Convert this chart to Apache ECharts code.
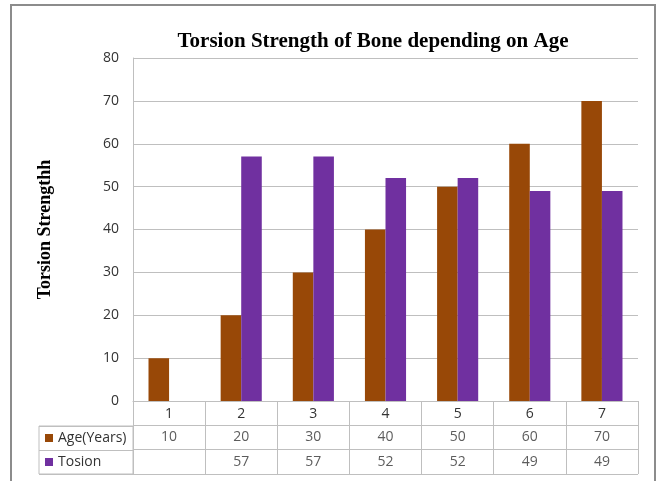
<!DOCTYPE html>
<html>
<head>
<meta charset="utf-8">
<script src="https://cdn.jsdelivr.net/npm/echarts@6/dist/echarts.min.js"></script>
<style>
  html, body { margin: 0; padding: 0; background: #fff; }
  #wrap { position: relative; width: 661px; height: 481px; overflow: hidden; }
  #frame { position: absolute; left: 10px; top: 4px; width: 646px; height: 520px;
           border: 2px solid #8c8c8c; box-sizing: border-box; }
  #chart { position: absolute; left: 0; top: 0; width: 661px; height: 481px; }
</style>
</head>
<body>
<div id="wrap"><div id="frame"></div><div id="chart"></div></div>
<script>
// Bone torsion strength by age group
const categories = ['1', '2', '3', '4', '5', '6', '7'];
const seriesNames = ['Age(Years)', 'Tosion'];
const ageYears = [10, 20, 30, 40, 50, 60, 70];
const tosion = [null, 57, 57, 52, 52, 49, 49];

const SANS = 'Open Sans';
const SERIF = 'Liberation Serif';
const TEXT = '#333';
const LINE = '#bfbfbf';

// Data table cells under the plot: row 2 (Age) and row 3 (Tosion)
const tableCells = [];
ageYears.forEach((v, i) => { if (v != null) tableCells.push([i, 1.5, v]); });
tosion.forEach((v, i) => { if (v != null) tableCells.push([i, 0.5, v]); });

const chart = echarts.init(document.getElementById('chart'), null, { renderer: 'canvas' });

chart.setOption({
  animation: false,
  backgroundColor: 'transparent',
  title: {
    text: 'Torsion Strength of Bone depending on Age',
    left: 368, top: 26, textAlign: 'center',
    textStyle: { fontFamily: SERIF, fontWeight: 'bold', fontSize: 21, color: '#000' }
  },
  legend: {
    data: seriesNames,
    orient: 'vertical',
    left: 45, top: 430,
    padding: 0,
    itemGap: 8,
    itemWidth: 8, itemHeight: 8,
    icon: 'rect',
    textStyle: { fontFamily: SANS, fontSize: 14, color: TEXT, lineHeight: 16 }
  },
  grid: [
    { left: 133, right: 23, top: 58, bottom: 80 },          // plot area
    { left: 133, right: 23, top: 401, bottom: 7 },          // data table
    { left: 39, width: 94, top: 426, bottom: 7,             // legend column
      show: true, borderColor: LINE, borderWidth: 1, backgroundColor: 'transparent' }
  ],
  xAxis: [
    { gridIndex: 0, type: 'category', data: categories,
      axisLine: { lineStyle: { color: LINE } },
      axisTick: { show: false },
      axisLabel: { margin: 6, fontFamily: SANS, fontSize: 14, color: TEXT } },
    { gridIndex: 1, type: 'category', data: categories,
      axisLine: { show: false }, axisTick: { show: false }, axisLabel: { show: false },
      splitLine: { show: true, lineStyle: { color: LINE } } },
    { gridIndex: 2, type: 'value', show: false }
  ],
  yAxis: [
    { gridIndex: 0, type: 'value', min: 0, max: 80, interval: 10,
      axisLine: { show: true, lineStyle: { color: LINE } },
      axisTick: { show: false },
      splitLine: { lineStyle: { color: LINE } },
      axisLabel: { margin: 14, fontFamily: SANS, fontSize: 14, color: TEXT },
      name: 'Torsion Strengthh', nameLocation: 'middle', nameGap: 79, nameRotate: 90,
      nameTextStyle: { fontFamily: SERIF, fontWeight: 'bold', fontSize: 18, color: '#000' } },
    { gridIndex: 1, type: 'value', min: 0, max: 3, interval: 1,
      axisLine: { show: false }, axisTick: { show: false }, axisLabel: { show: false },
      splitLine: { show: true, lineStyle: { color: LINE } } },
    { gridIndex: 2, type: 'value', min: 0, max: 2, interval: 1,
      axisLine: { show: false }, axisTick: { show: false }, axisLabel: { show: false },
      splitLine: { show: true, lineStyle: { color: LINE } } }
  ],
  series: [
    { name: seriesNames[0], type: 'bar', xAxisIndex: 0, yAxisIndex: 0,
      data: ageYears, itemStyle: { color: '#984807' },
      barGap: '0%', barCategoryGap: '43%' },
    { name: seriesNames[1], type: 'bar', xAxisIndex: 0, yAxisIndex: 0,
      data: tosion, itemStyle: { color: '#7030a0' },
      barGap: '0%', barCategoryGap: '43%' },
    { name: 'table', type: 'scatter', xAxisIndex: 1, yAxisIndex: 1,
      data: tableCells, symbolSize: 0, silent: true,
      label: { show: true, position: 'inside', formatter: p => p.value[2],
               fontFamily: SANS, fontSize: 14, color: TEXT } }
  ]
});
</script>
</body>
</html>
